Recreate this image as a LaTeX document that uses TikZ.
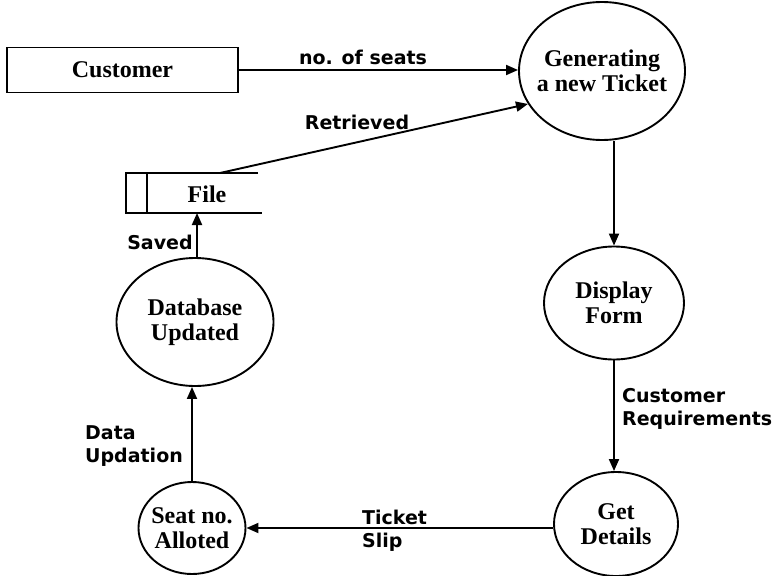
\documentclass[tikz,border=0pt]{standalone}
\usepackage{fontspec}
\setmainfont{Liberation Serif}
\newfontfamily\lblfont{DejaVu Sans}
\usetikzlibrary{shapes.geometric,arrows.meta}

\begin{document}
\begin{tikzpicture}[x=1pt,y=-1pt,
    process/.style={draw, ellipse, line width=1.9pt, inner sep=-20pt, align=center,
      font=\fontsize{24}{25}\selectfont\bfseries},
    flow/.style={line width=1.9pt, -{Triangle[length=12pt,width=10pt]}},
    lbl/.style={font=\lblfont\fontsize{19}{23}\selectfont\bfseries, align=left, inner sep=0pt}]
  % page frame, same size as the original image
  \useasboundingbox (0,0) rectangle (775,575);

  % external entity
  \node (cust) at (122.5,70) [draw, line width=1.9pt, minimum width=231pt, minimum height=45pt,
    font=\fontsize{24}{25}\selectfont\bfseries] {Customer};

  % processes
  \node (gen) at (602,71) [process, minimum width=166pt, minimum height=138pt] {Generating\\a new Ticket};
  \node (disp) at (614,303) [process, minimum width=140pt, minimum height=113pt] {Display\\Form};
  \node (det) at (616,524) [process, minimum width=124pt, minimum height=104pt] {Get\\Details};
  \node (seat) at (192,528) [process, minimum width=107pt, minimum height=92pt] {Seat no.\\Alloted};
  \node (db) at (195,322) [process, minimum width=157pt, minimum height=128pt] {Database\\Updated};

  % data store
  \draw[line width=1.9pt] (258,173) -- (126,173) -- (126,213) -- (262,213);
  \draw[line width=1.9pt] (147,173) -- (147,213);
  \node (file) at (207,194) [font=\fontsize{24}{25}\selectfont\bfseries] {File};
  \coordinate (filetop) at (220,173);
  \coordinate (filebot) at (197,213);

  % data flows
  \draw[flow] (cust.east) -- (cust.east -| gen.west);
  \draw[flow] (filetop) -- (gen.204);
  \draw[flow] (gen.south -| disp.north) -- (disp.north);
  \draw[flow] (disp.south) -- (disp.south |- det.north);
  \draw[flow] (det.west |- seat.east) -- (seat.east);
  \draw[flow] (seat.north) -- (seat.north |- db.south);
  \draw[flow] (db.north -| filebot) -- (filebot);

  % flow labels
  \node (lseats) at (363,57) [lbl] {no. of seats};
  \node (lretr) at (357,122) [lbl] {Retrieved};
  \node (lreq) at (622,409) [lbl, anchor=west] {Customer\\Requirements};
  \node (lslip) at (362,530.5) [lbl, anchor=west] {Ticket\\Slip};
  \node (lupd) at (85,446) [lbl, anchor=west] {Data\\Updation};
  \node (lsaved) at (160,242) [lbl] {Saved};
\end{tikzpicture}
\end{document}
